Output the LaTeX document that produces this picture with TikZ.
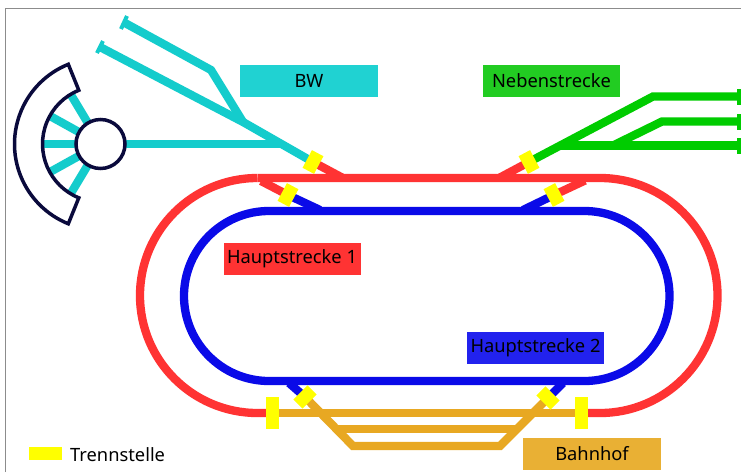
\documentclass[tikz,border=0pt]{standalone}
\usepackage{fontspec}
\setmainfont{Noto Sans}
\definecolor{cyanT}{HTML}{14CCCC}
\definecolor{cyanL}{HTML}{20D2D2}
\definecolor{redT}{HTML}{FF3333}
\definecolor{blueT}{HTML}{0A0AE8}
\definecolor{blueL}{HTML}{2222EE}
\definecolor{greenT}{HTML}{00CC00}
\definecolor{greenL}{HTML}{22CC22}
\definecolor{orangeT}{HTML}{E8A822}
\definecolor{orangeL}{HTML}{E9B034}
\definecolor{navyT}{HTML}{0A0A3C}
\definecolor{sepY}{HTML}{FFFF00}
\tikzset{
  track/.style={line width=8.3pt,line join=miter,line cap=butt},
  cyantrack/.style={track,cyanT},
  redtrack/.style={track,redT},
  bluetrack/.style={track,blueT},
  greentrack/.style={track,greenT},
  orangetrack/.style={track,orangeT},
  stopcap/.style={line width=4pt},
  sepbox/.style={fill=sepY,draw=none,inner sep=0pt,minimum width=13pt,minimum height=20pt},
  labelbox/.style={draw=none,inner sep=0pt,minimum width=137pt,minimum height=32pt,font=\fontsize{18.3}{20}\selectfont},
  turn/.style={navyT,line width=3.5pt,line join=miter},
}
\begin{document}
\begin{tikzpicture}[x=1pt,y=1pt,yscale=-1]
\useasboundingbox (0,0) rectangle (741,472);
\fill[white] (0,0) rectangle (741,472);
\draw[gray!90,line width=0.8pt] (5.5,472) -- (5.5,8.5) -- (741,8.5);
% named positions
\coordinate (tt) at (100.5,144);
\coordinate (sA) at (313,162);
\coordinate (sB) at (288,195);
\coordinate (sC) at (529,162);
\coordinate (sD) at (554,195);
\coordinate (sE) at (305,397);
\coordinate (sF) at (548,398);
\coordinate (sG) at (272,413);
\coordinate (sH) at (581,413);
\coordinate (cJ) at (243,122);
% main loops
\draw[redtrack] (257.5,178) -- (600,178) arc[start angle=-90,end angle=90,radius=117.5] -- (581,413);
\draw[redtrack] (272,413) -- (257.5,413) arc[start angle=90,end angle=270,radius=117.5];
\draw[bluetrack] (269,211) -- (584.5,211) arc[start angle=-90,end angle=90,radius=85] -- (269,381) arc[start angle=90,end angle=270,radius=85];
% red branches
\draw[redtrack] (sA) -- (342,177.5);
\draw[redtrack] (sC) -- (500,177.5);
\draw[redtrack] (261,181) -- (sB);
\draw[redtrack] (585,180.5) -- (sD);
% blue branches
\draw[bluetrack] (sB) -- (320,210);
\draw[bluetrack] (sD) -- (523,210);
\draw[bluetrack] (289,383) -- (sE);
\draw[bluetrack] (563,383) -- (sF);
% BW
\draw[cyantrack] (125,23) -- (211,70) -- (cJ);
\draw[cyantrack] (100,47) -- (cJ) -- (sA);
\draw[cyantrack] (tt) -- (280,144);
\draw[cyanT,stopcap] (127,16) -- (121,29);
\draw[cyanT,stopcap] (103,41) -- (97,53);
% Turntable
\foreach \a in {-59,-29,0,29,59}
  \draw[cyantrack] (tt) -- ++(180+\a:58);
\fill[white] (tt) circle[radius=24.5];
\draw[turn] (tt) circle[radius=24.5];
\draw[turn] (68.3,64.3) arc[start angle=248,end angle=112,radius=86] -- (78.8,197.8) arc[start angle=112,end angle=248,radius=58] -- cycle;
% Nebenstrecke
\draw[greentrack] (sC) -- (653,96.5) -- (741,96.5);
\draw[greentrack] (560,145.5) -- (741,145.5);
\draw[greentrack] (614,145) -- (662,121.5) -- (741,121.5);
\foreach \y in {96.5,121.5,145.5}
  \fill[greenT] (737,\y-8) rectangle (741,\y+8);
% Bahnhof
\draw[orangetrack] (sG) -- (sH);
\draw[orangetrack] (sE) -- (353,446) -- (500,446) -- (sF);
\draw[orangetrack] (337,429) -- (515,429);
% separators
\node[sepbox,rotate=-28] (trA) at (sA) {};
\node[sepbox,rotate=-28] (trB) at (sB) {};
\node[sepbox,rotate=28] (trC) at (sC) {};
\node[sepbox,rotate=28] (trD) at (sD) {};
\node[sepbox,rotate=-45] (trE) at (sE) {};
\node[sepbox,rotate=45] (trF) at (sF) {};
\node[sepbox,minimum height=32pt] (trG) at (sG) {};
\node[sepbox,minimum height=32pt] (trH) at (sH) {};
% labels
\node[labelbox,fill=cyanL,minimum width=138pt] (bw) at (309,81) {BW};
\node[labelbox,fill=greenL] (neben) at (551.5,81) {Nebenstrecke};
\node[labelbox,fill=redT] (h1) at (292,259) {Hauptstrecke 1};
\node[labelbox,fill=blueL] (h2) at (535.5,348) {Hauptstrecke 2};
\node[labelbox,fill=orangeL,minimum width=138pt] (bhf) at (592,454) {Bahnhof};
% legend
\node[fill=sepY,inner sep=0pt,minimum width=33pt,minimum height=13pt] (leg) at (45.5,453.5) {};
\node[anchor=west,inner sep=0pt,font=\fontsize{18.3}{20}\selectfont] (legt) at (70,455) {Trennstelle};
\end{tikzpicture}
\end{document}
